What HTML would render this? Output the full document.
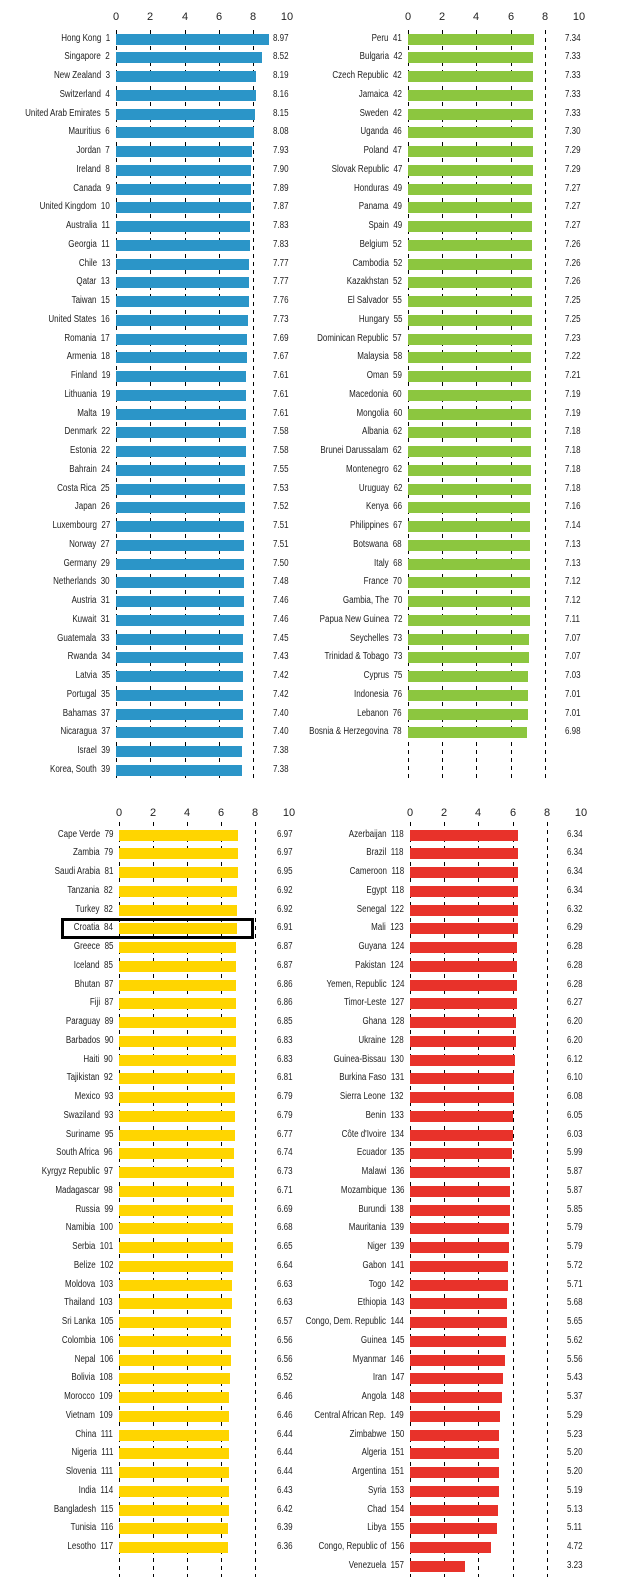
<!DOCTYPE html>
<html><head><meta charset="utf-8"><style>
body{margin:0;width:625px;height:1590px;background:#fff;position:relative;overflow:hidden;font-family:"Liberation Sans",sans-serif;color:#222}
.p{position:absolute;width:0}
.r{position:relative;height:18.76px}
.l{position:absolute;right:6px;top:0;line-height:18.76px;font-size:10px;white-space:nowrap;transform:scaleX(.8);transform-origin:right center}
.b{position:absolute;left:0;top:4px;height:11px}
.v{position:absolute;top:0;line-height:18.76px;font-size:10px;transform:scaleX(.8);transform-origin:left center}
.t1 .b{background:#2b95c8}.t2 .b{background:#8cc63f}.t3 .b{background:#ffd500}.t4 .b{background:#e8322a}
.t1 .v{left:157px}.t2 .v{left:157px}.t3 .v{left:158px}.t4 .v{left:157px}
.d{position:absolute;width:1px;background:repeating-linear-gradient(#000 0 4px,transparent 4px 8px)}
.ax{position:absolute;font-size:11px;width:30px;text-align:center;margin-left:-15px}
.box{position:absolute;left:61px;top:918px;width:187px;height:15px;border:3px solid #000}
</style></head><body>
<!-- axes -->
<div class="ax" style="left:116px;top:11px">0</div><div class="ax" style="left:150px;top:11px">2</div><div class="ax" style="left:185px;top:11px">4</div><div class="ax" style="left:219px;top:11px">6</div><div class="ax" style="left:253px;top:11px">8</div><div class="ax" style="left:287px;top:11px">10</div>
<div class="ax" style="left:408px;top:11px">0</div><div class="ax" style="left:442px;top:11px">2</div><div class="ax" style="left:476px;top:11px">4</div><div class="ax" style="left:511px;top:11px">6</div><div class="ax" style="left:545px;top:11px">8</div><div class="ax" style="left:579px;top:11px">10</div>
<div class="ax" style="left:119px;top:807px">0</div><div class="ax" style="left:153px;top:807px">2</div><div class="ax" style="left:187px;top:807px">4</div><div class="ax" style="left:221px;top:807px">6</div><div class="ax" style="left:255px;top:807px">8</div><div class="ax" style="left:289px;top:807px">10</div>
<div class="ax" style="left:410px;top:807px">0</div><div class="ax" style="left:444px;top:807px">2</div><div class="ax" style="left:478px;top:807px">4</div><div class="ax" style="left:513px;top:807px">6</div><div class="ax" style="left:547px;top:807px">8</div><div class="ax" style="left:581px;top:807px">10</div>
<!-- dashed -->
<div class="d" style="left:116px;top:30px;height:751px"></div><div class="d" style="left:150px;top:30px;height:751px"></div><div class="d" style="left:185px;top:30px;height:751px"></div><div class="d" style="left:219px;top:30px;height:751px"></div><div class="d" style="left:253px;top:30px;height:751px"></div>
<div class="d" style="left:408px;top:30px;height:751px"></div><div class="d" style="left:442px;top:30px;height:751px"></div><div class="d" style="left:476px;top:30px;height:751px"></div><div class="d" style="left:511px;top:30px;height:751px"></div><div class="d" style="left:545px;top:30px;height:751px"></div>
<div class="d" style="left:119px;top:822px;height:755px"></div><div class="d" style="left:153px;top:822px;height:755px"></div><div class="d" style="left:187px;top:822px;height:755px"></div><div class="d" style="left:221px;top:822px;height:755px"></div><div class="d" style="left:255px;top:822px;height:755px"></div>
<div class="d" style="left:410px;top:822px;height:755px"></div><div class="d" style="left:444px;top:822px;height:755px"></div><div class="d" style="left:478px;top:822px;height:755px"></div><div class="d" style="left:513px;top:822px;height:755px"></div><div class="d" style="left:547px;top:822px;height:755px"></div>

<div class="p t1" style="left:116px;top:29.6px">
<div class="r"><span class="l">Hong Kong&nbsp; 1</span><div class="b" style="width:calc(8.97*17.1px)"></div><span class="v">8.97</span></div>
<div class="r"><span class="l">Singapore&nbsp; 2</span><div class="b" style="width:calc(8.52*17.1px)"></div><span class="v">8.52</span></div>
<div class="r"><span class="l">New Zealand&nbsp; 3</span><div class="b" style="width:calc(8.19*17.1px)"></div><span class="v">8.19</span></div>
<div class="r"><span class="l">Switzerland&nbsp; 4</span><div class="b" style="width:calc(8.16*17.1px)"></div><span class="v">8.16</span></div>
<div class="r"><span class="l">United Arab Emirates&nbsp; 5</span><div class="b" style="width:calc(8.15*17.1px)"></div><span class="v">8.15</span></div>
<div class="r"><span class="l">Mauritius&nbsp; 6</span><div class="b" style="width:calc(8.08*17.1px)"></div><span class="v">8.08</span></div>
<div class="r"><span class="l">Jordan&nbsp; 7</span><div class="b" style="width:calc(7.93*17.1px)"></div><span class="v">7.93</span></div>
<div class="r"><span class="l">Ireland&nbsp; 8</span><div class="b" style="width:calc(7.90*17.1px)"></div><span class="v">7.90</span></div>
<div class="r"><span class="l">Canada&nbsp; 9</span><div class="b" style="width:calc(7.89*17.1px)"></div><span class="v">7.89</span></div>
<div class="r"><span class="l">United Kingdom&nbsp; 10</span><div class="b" style="width:calc(7.87*17.1px)"></div><span class="v">7.87</span></div>
<div class="r"><span class="l">Australia&nbsp; 11</span><div class="b" style="width:calc(7.83*17.1px)"></div><span class="v">7.83</span></div>
<div class="r"><span class="l">Georgia&nbsp; 11</span><div class="b" style="width:calc(7.83*17.1px)"></div><span class="v">7.83</span></div>
<div class="r"><span class="l">Chile&nbsp; 13</span><div class="b" style="width:calc(7.77*17.1px)"></div><span class="v">7.77</span></div>
<div class="r"><span class="l">Qatar&nbsp; 13</span><div class="b" style="width:calc(7.77*17.1px)"></div><span class="v">7.77</span></div>
<div class="r"><span class="l">Taiwan&nbsp; 15</span><div class="b" style="width:calc(7.76*17.1px)"></div><span class="v">7.76</span></div>
<div class="r"><span class="l">United States&nbsp; 16</span><div class="b" style="width:calc(7.73*17.1px)"></div><span class="v">7.73</span></div>
<div class="r"><span class="l">Romania&nbsp; 17</span><div class="b" style="width:calc(7.69*17.1px)"></div><span class="v">7.69</span></div>
<div class="r"><span class="l">Armenia&nbsp; 18</span><div class="b" style="width:calc(7.67*17.1px)"></div><span class="v">7.67</span></div>
<div class="r"><span class="l">Finland&nbsp; 19</span><div class="b" style="width:calc(7.61*17.1px)"></div><span class="v">7.61</span></div>
<div class="r"><span class="l">Lithuania&nbsp; 19</span><div class="b" style="width:calc(7.61*17.1px)"></div><span class="v">7.61</span></div>
<div class="r"><span class="l">Malta&nbsp; 19</span><div class="b" style="width:calc(7.61*17.1px)"></div><span class="v">7.61</span></div>
<div class="r"><span class="l">Denmark&nbsp; 22</span><div class="b" style="width:calc(7.58*17.1px)"></div><span class="v">7.58</span></div>
<div class="r"><span class="l">Estonia&nbsp; 22</span><div class="b" style="width:calc(7.58*17.1px)"></div><span class="v">7.58</span></div>
<div class="r"><span class="l">Bahrain&nbsp; 24</span><div class="b" style="width:calc(7.55*17.1px)"></div><span class="v">7.55</span></div>
<div class="r"><span class="l">Costa Rica&nbsp; 25</span><div class="b" style="width:calc(7.53*17.1px)"></div><span class="v">7.53</span></div>
<div class="r"><span class="l">Japan&nbsp; 26</span><div class="b" style="width:calc(7.52*17.1px)"></div><span class="v">7.52</span></div>
<div class="r"><span class="l">Luxembourg&nbsp; 27</span><div class="b" style="width:calc(7.51*17.1px)"></div><span class="v">7.51</span></div>
<div class="r"><span class="l">Norway&nbsp; 27</span><div class="b" style="width:calc(7.51*17.1px)"></div><span class="v">7.51</span></div>
<div class="r"><span class="l">Germany&nbsp; 29</span><div class="b" style="width:calc(7.50*17.1px)"></div><span class="v">7.50</span></div>
<div class="r"><span class="l">Netherlands&nbsp; 30</span><div class="b" style="width:calc(7.48*17.1px)"></div><span class="v">7.48</span></div>
<div class="r"><span class="l">Austria&nbsp; 31</span><div class="b" style="width:calc(7.46*17.1px)"></div><span class="v">7.46</span></div>
<div class="r"><span class="l">Kuwait&nbsp; 31</span><div class="b" style="width:calc(7.46*17.1px)"></div><span class="v">7.46</span></div>
<div class="r"><span class="l">Guatemala&nbsp; 33</span><div class="b" style="width:calc(7.45*17.1px)"></div><span class="v">7.45</span></div>
<div class="r"><span class="l">Rwanda&nbsp; 34</span><div class="b" style="width:calc(7.43*17.1px)"></div><span class="v">7.43</span></div>
<div class="r"><span class="l">Latvia&nbsp; 35</span><div class="b" style="width:calc(7.42*17.1px)"></div><span class="v">7.42</span></div>
<div class="r"><span class="l">Portugal&nbsp; 35</span><div class="b" style="width:calc(7.42*17.1px)"></div><span class="v">7.42</span></div>
<div class="r"><span class="l">Bahamas&nbsp; 37</span><div class="b" style="width:calc(7.40*17.1px)"></div><span class="v">7.40</span></div>
<div class="r"><span class="l">Nicaragua&nbsp; 37</span><div class="b" style="width:calc(7.40*17.1px)"></div><span class="v">7.40</span></div>
<div class="r"><span class="l">Israel&nbsp; 39</span><div class="b" style="width:calc(7.38*17.1px)"></div><span class="v">7.38</span></div>
<div class="r"><span class="l">Korea, South&nbsp; 39</span><div class="b" style="width:calc(7.38*17.1px)"></div><span class="v">7.38</span></div>
</div>

<div class="p t2" style="left:408px;top:29.6px">
<div class="r"><span class="l">Peru&nbsp; 41</span><div class="b" style="width:calc(7.34*17.1px)"></div><span class="v">7.34</span></div>
<div class="r"><span class="l">Bulgaria&nbsp; 42</span><div class="b" style="width:calc(7.33*17.1px)"></div><span class="v">7.33</span></div>
<div class="r"><span class="l">Czech Republic&nbsp; 42</span><div class="b" style="width:calc(7.33*17.1px)"></div><span class="v">7.33</span></div>
<div class="r"><span class="l">Jamaica&nbsp; 42</span><div class="b" style="width:calc(7.33*17.1px)"></div><span class="v">7.33</span></div>
<div class="r"><span class="l">Sweden&nbsp; 42</span><div class="b" style="width:calc(7.33*17.1px)"></div><span class="v">7.33</span></div>
<div class="r"><span class="l">Uganda&nbsp; 46</span><div class="b" style="width:calc(7.30*17.1px)"></div><span class="v">7.30</span></div>
<div class="r"><span class="l">Poland&nbsp; 47</span><div class="b" style="width:calc(7.29*17.1px)"></div><span class="v">7.29</span></div>
<div class="r"><span class="l">Slovak Republic&nbsp; 47</span><div class="b" style="width:calc(7.29*17.1px)"></div><span class="v">7.29</span></div>
<div class="r"><span class="l">Honduras&nbsp; 49</span><div class="b" style="width:calc(7.27*17.1px)"></div><span class="v">7.27</span></div>
<div class="r"><span class="l">Panama&nbsp; 49</span><div class="b" style="width:calc(7.27*17.1px)"></div><span class="v">7.27</span></div>
<div class="r"><span class="l">Spain&nbsp; 49</span><div class="b" style="width:calc(7.27*17.1px)"></div><span class="v">7.27</span></div>
<div class="r"><span class="l">Belgium&nbsp; 52</span><div class="b" style="width:calc(7.26*17.1px)"></div><span class="v">7.26</span></div>
<div class="r"><span class="l">Cambodia&nbsp; 52</span><div class="b" style="width:calc(7.26*17.1px)"></div><span class="v">7.26</span></div>
<div class="r"><span class="l">Kazakhstan&nbsp; 52</span><div class="b" style="width:calc(7.26*17.1px)"></div><span class="v">7.26</span></div>
<div class="r"><span class="l">El Salvador&nbsp; 55</span><div class="b" style="width:calc(7.25*17.1px)"></div><span class="v">7.25</span></div>
<div class="r"><span class="l">Hungary&nbsp; 55</span><div class="b" style="width:calc(7.25*17.1px)"></div><span class="v">7.25</span></div>
<div class="r"><span class="l">Dominican Republic&nbsp; 57</span><div class="b" style="width:calc(7.23*17.1px)"></div><span class="v">7.23</span></div>
<div class="r"><span class="l">Malaysia&nbsp; 58</span><div class="b" style="width:calc(7.22*17.1px)"></div><span class="v">7.22</span></div>
<div class="r"><span class="l">Oman&nbsp; 59</span><div class="b" style="width:calc(7.21*17.1px)"></div><span class="v">7.21</span></div>
<div class="r"><span class="l">Macedonia&nbsp; 60</span><div class="b" style="width:calc(7.19*17.1px)"></div><span class="v">7.19</span></div>
<div class="r"><span class="l">Mongolia&nbsp; 60</span><div class="b" style="width:calc(7.19*17.1px)"></div><span class="v">7.19</span></div>
<div class="r"><span class="l">Albania&nbsp; 62</span><div class="b" style="width:calc(7.18*17.1px)"></div><span class="v">7.18</span></div>
<div class="r"><span class="l">Brunei Darussalam&nbsp; 62</span><div class="b" style="width:calc(7.18*17.1px)"></div><span class="v">7.18</span></div>
<div class="r"><span class="l">Montenegro&nbsp; 62</span><div class="b" style="width:calc(7.18*17.1px)"></div><span class="v">7.18</span></div>
<div class="r"><span class="l">Uruguay&nbsp; 62</span><div class="b" style="width:calc(7.18*17.1px)"></div><span class="v">7.18</span></div>
<div class="r"><span class="l">Kenya&nbsp; 66</span><div class="b" style="width:calc(7.16*17.1px)"></div><span class="v">7.16</span></div>
<div class="r"><span class="l">Philippines&nbsp; 67</span><div class="b" style="width:calc(7.14*17.1px)"></div><span class="v">7.14</span></div>
<div class="r"><span class="l">Botswana&nbsp; 68</span><div class="b" style="width:calc(7.13*17.1px)"></div><span class="v">7.13</span></div>
<div class="r"><span class="l">Italy&nbsp; 68</span><div class="b" style="width:calc(7.13*17.1px)"></div><span class="v">7.13</span></div>
<div class="r"><span class="l">France&nbsp; 70</span><div class="b" style="width:calc(7.12*17.1px)"></div><span class="v">7.12</span></div>
<div class="r"><span class="l">Gambia, The&nbsp; 70</span><div class="b" style="width:calc(7.12*17.1px)"></div><span class="v">7.12</span></div>
<div class="r"><span class="l">Papua New Guinea&nbsp; 72</span><div class="b" style="width:calc(7.11*17.1px)"></div><span class="v">7.11</span></div>
<div class="r"><span class="l">Seychelles&nbsp; 73</span><div class="b" style="width:calc(7.07*17.1px)"></div><span class="v">7.07</span></div>
<div class="r"><span class="l">Trinidad &amp; Tobago&nbsp; 73</span><div class="b" style="width:calc(7.07*17.1px)"></div><span class="v">7.07</span></div>
<div class="r"><span class="l">Cyprus&nbsp; 75</span><div class="b" style="width:calc(7.03*17.1px)"></div><span class="v">7.03</span></div>
<div class="r"><span class="l">Indonesia&nbsp; 76</span><div class="b" style="width:calc(7.01*17.1px)"></div><span class="v">7.01</span></div>
<div class="r"><span class="l">Lebanon&nbsp; 76</span><div class="b" style="width:calc(7.01*17.1px)"></div><span class="v">7.01</span></div>
<div class="r"><span class="l">Bosnia &amp; Herzegovina&nbsp; 78</span><div class="b" style="width:calc(6.98*17.1px)"></div><span class="v">6.98</span></div>
</div>

<div class="p t3" style="left:119px;top:825.6px">
<div class="r"><span class="l">Cape Verde&nbsp; 79</span><div class="b" style="width:calc(6.97*17.1px)"></div><span class="v">6.97</span></div>
<div class="r"><span class="l">Zambia&nbsp; 79</span><div class="b" style="width:calc(6.97*17.1px)"></div><span class="v">6.97</span></div>
<div class="r"><span class="l">Saudi Arabia&nbsp; 81</span><div class="b" style="width:calc(6.95*17.1px)"></div><span class="v">6.95</span></div>
<div class="r"><span class="l">Tanzania&nbsp; 82</span><div class="b" style="width:calc(6.92*17.1px)"></div><span class="v">6.92</span></div>
<div class="r"><span class="l">Turkey&nbsp; 82</span><div class="b" style="width:calc(6.92*17.1px)"></div><span class="v">6.92</span></div>
<div class="r"><span class="l">Croatia&nbsp; 84</span><div class="b" style="width:calc(6.91*17.1px)"></div><span class="v">6.91</span></div>
<div class="r"><span class="l">Greece&nbsp; 85</span><div class="b" style="width:calc(6.87*17.1px)"></div><span class="v">6.87</span></div>
<div class="r"><span class="l">Iceland&nbsp; 85</span><div class="b" style="width:calc(6.87*17.1px)"></div><span class="v">6.87</span></div>
<div class="r"><span class="l">Bhutan&nbsp; 87</span><div class="b" style="width:calc(6.86*17.1px)"></div><span class="v">6.86</span></div>
<div class="r"><span class="l">Fiji&nbsp; 87</span><div class="b" style="width:calc(6.86*17.1px)"></div><span class="v">6.86</span></div>
<div class="r"><span class="l">Paraguay&nbsp; 89</span><div class="b" style="width:calc(6.85*17.1px)"></div><span class="v">6.85</span></div>
<div class="r"><span class="l">Barbados&nbsp; 90</span><div class="b" style="width:calc(6.83*17.1px)"></div><span class="v">6.83</span></div>
<div class="r"><span class="l">Haiti&nbsp; 90</span><div class="b" style="width:calc(6.83*17.1px)"></div><span class="v">6.83</span></div>
<div class="r"><span class="l">Tajikistan&nbsp; 92</span><div class="b" style="width:calc(6.81*17.1px)"></div><span class="v">6.81</span></div>
<div class="r"><span class="l">Mexico&nbsp; 93</span><div class="b" style="width:calc(6.79*17.1px)"></div><span class="v">6.79</span></div>
<div class="r"><span class="l">Swaziland&nbsp; 93</span><div class="b" style="width:calc(6.79*17.1px)"></div><span class="v">6.79</span></div>
<div class="r"><span class="l">Suriname&nbsp; 95</span><div class="b" style="width:calc(6.77*17.1px)"></div><span class="v">6.77</span></div>
<div class="r"><span class="l">South Africa&nbsp; 96</span><div class="b" style="width:calc(6.74*17.1px)"></div><span class="v">6.74</span></div>
<div class="r"><span class="l">Kyrgyz Republic&nbsp; 97</span><div class="b" style="width:calc(6.73*17.1px)"></div><span class="v">6.73</span></div>
<div class="r"><span class="l">Madagascar&nbsp; 98</span><div class="b" style="width:calc(6.71*17.1px)"></div><span class="v">6.71</span></div>
<div class="r"><span class="l">Russia&nbsp; 99</span><div class="b" style="width:calc(6.69*17.1px)"></div><span class="v">6.69</span></div>
<div class="r"><span class="l">Namibia&nbsp; 100</span><div class="b" style="width:calc(6.68*17.1px)"></div><span class="v">6.68</span></div>
<div class="r"><span class="l">Serbia&nbsp; 101</span><div class="b" style="width:calc(6.65*17.1px)"></div><span class="v">6.65</span></div>
<div class="r"><span class="l">Belize&nbsp; 102</span><div class="b" style="width:calc(6.64*17.1px)"></div><span class="v">6.64</span></div>
<div class="r"><span class="l">Moldova&nbsp; 103</span><div class="b" style="width:calc(6.63*17.1px)"></div><span class="v">6.63</span></div>
<div class="r"><span class="l">Thailand&nbsp; 103</span><div class="b" style="width:calc(6.63*17.1px)"></div><span class="v">6.63</span></div>
<div class="r"><span class="l">Sri Lanka&nbsp; 105</span><div class="b" style="width:calc(6.57*17.1px)"></div><span class="v">6.57</span></div>
<div class="r"><span class="l">Colombia&nbsp; 106</span><div class="b" style="width:calc(6.56*17.1px)"></div><span class="v">6.56</span></div>
<div class="r"><span class="l">Nepal&nbsp; 106</span><div class="b" style="width:calc(6.56*17.1px)"></div><span class="v">6.56</span></div>
<div class="r"><span class="l">Bolivia&nbsp; 108</span><div class="b" style="width:calc(6.52*17.1px)"></div><span class="v">6.52</span></div>
<div class="r"><span class="l">Morocco&nbsp; 109</span><div class="b" style="width:calc(6.46*17.1px)"></div><span class="v">6.46</span></div>
<div class="r"><span class="l">Vietnam&nbsp; 109</span><div class="b" style="width:calc(6.46*17.1px)"></div><span class="v">6.46</span></div>
<div class="r"><span class="l">China&nbsp; 111</span><div class="b" style="width:calc(6.44*17.1px)"></div><span class="v">6.44</span></div>
<div class="r"><span class="l">Nigeria&nbsp; 111</span><div class="b" style="width:calc(6.44*17.1px)"></div><span class="v">6.44</span></div>
<div class="r"><span class="l">Slovenia&nbsp; 111</span><div class="b" style="width:calc(6.44*17.1px)"></div><span class="v">6.44</span></div>
<div class="r"><span class="l">India&nbsp; 114</span><div class="b" style="width:calc(6.43*17.1px)"></div><span class="v">6.43</span></div>
<div class="r"><span class="l">Bangladesh&nbsp; 115</span><div class="b" style="width:calc(6.42*17.1px)"></div><span class="v">6.42</span></div>
<div class="r"><span class="l">Tunisia&nbsp; 116</span><div class="b" style="width:calc(6.39*17.1px)"></div><span class="v">6.39</span></div>
<div class="r"><span class="l">Lesotho&nbsp; 117</span><div class="b" style="width:calc(6.36*17.1px)"></div><span class="v">6.36</span></div>
</div>

<div class="p t4" style="left:410px;top:825.6px">
<div class="r"><span class="l">Azerbaijan&nbsp; 118</span><div class="b" style="width:calc(6.34*17.1px)"></div><span class="v">6.34</span></div>
<div class="r"><span class="l">Brazil&nbsp; 118</span><div class="b" style="width:calc(6.34*17.1px)"></div><span class="v">6.34</span></div>
<div class="r"><span class="l">Cameroon&nbsp; 118</span><div class="b" style="width:calc(6.34*17.1px)"></div><span class="v">6.34</span></div>
<div class="r"><span class="l">Egypt&nbsp; 118</span><div class="b" style="width:calc(6.34*17.1px)"></div><span class="v">6.34</span></div>
<div class="r"><span class="l">Senegal&nbsp; 122</span><div class="b" style="width:calc(6.32*17.1px)"></div><span class="v">6.32</span></div>
<div class="r"><span class="l">Mali&nbsp; 123</span><div class="b" style="width:calc(6.29*17.1px)"></div><span class="v">6.29</span></div>
<div class="r"><span class="l">Guyana&nbsp; 124</span><div class="b" style="width:calc(6.28*17.1px)"></div><span class="v">6.28</span></div>
<div class="r"><span class="l">Pakistan&nbsp; 124</span><div class="b" style="width:calc(6.28*17.1px)"></div><span class="v">6.28</span></div>
<div class="r"><span class="l">Yemen, Republic&nbsp; 124</span><div class="b" style="width:calc(6.28*17.1px)"></div><span class="v">6.28</span></div>
<div class="r"><span class="l">Timor-Leste&nbsp; 127</span><div class="b" style="width:calc(6.27*17.1px)"></div><span class="v">6.27</span></div>
<div class="r"><span class="l">Ghana&nbsp; 128</span><div class="b" style="width:calc(6.20*17.1px)"></div><span class="v">6.20</span></div>
<div class="r"><span class="l">Ukraine&nbsp; 128</span><div class="b" style="width:calc(6.20*17.1px)"></div><span class="v">6.20</span></div>
<div class="r"><span class="l">Guinea-Bissau&nbsp; 130</span><div class="b" style="width:calc(6.12*17.1px)"></div><span class="v">6.12</span></div>
<div class="r"><span class="l">Burkina Faso&nbsp; 131</span><div class="b" style="width:calc(6.10*17.1px)"></div><span class="v">6.10</span></div>
<div class="r"><span class="l">Sierra Leone&nbsp; 132</span><div class="b" style="width:calc(6.08*17.1px)"></div><span class="v">6.08</span></div>
<div class="r"><span class="l">Benin&nbsp; 133</span><div class="b" style="width:calc(6.05*17.1px)"></div><span class="v">6.05</span></div>
<div class="r"><span class="l">Côte d'Ivoire&nbsp; 134</span><div class="b" style="width:calc(6.03*17.1px)"></div><span class="v">6.03</span></div>
<div class="r"><span class="l">Ecuador&nbsp; 135</span><div class="b" style="width:calc(5.99*17.1px)"></div><span class="v">5.99</span></div>
<div class="r"><span class="l">Malawi&nbsp; 136</span><div class="b" style="width:calc(5.87*17.1px)"></div><span class="v">5.87</span></div>
<div class="r"><span class="l">Mozambique&nbsp; 136</span><div class="b" style="width:calc(5.87*17.1px)"></div><span class="v">5.87</span></div>
<div class="r"><span class="l">Burundi&nbsp; 138</span><div class="b" style="width:calc(5.85*17.1px)"></div><span class="v">5.85</span></div>
<div class="r"><span class="l">Mauritania&nbsp; 139</span><div class="b" style="width:calc(5.79*17.1px)"></div><span class="v">5.79</span></div>
<div class="r"><span class="l">Niger&nbsp; 139</span><div class="b" style="width:calc(5.79*17.1px)"></div><span class="v">5.79</span></div>
<div class="r"><span class="l">Gabon&nbsp; 141</span><div class="b" style="width:calc(5.72*17.1px)"></div><span class="v">5.72</span></div>
<div class="r"><span class="l">Togo&nbsp; 142</span><div class="b" style="width:calc(5.71*17.1px)"></div><span class="v">5.71</span></div>
<div class="r"><span class="l">Ethiopia&nbsp; 143</span><div class="b" style="width:calc(5.68*17.1px)"></div><span class="v">5.68</span></div>
<div class="r"><span class="l">Congo, Dem. Republic&nbsp; 144</span><div class="b" style="width:calc(5.65*17.1px)"></div><span class="v">5.65</span></div>
<div class="r"><span class="l">Guinea&nbsp; 145</span><div class="b" style="width:calc(5.62*17.1px)"></div><span class="v">5.62</span></div>
<div class="r"><span class="l">Myanmar&nbsp; 146</span><div class="b" style="width:calc(5.56*17.1px)"></div><span class="v">5.56</span></div>
<div class="r"><span class="l">Iran&nbsp; 147</span><div class="b" style="width:calc(5.43*17.1px)"></div><span class="v">5.43</span></div>
<div class="r"><span class="l">Angola&nbsp; 148</span><div class="b" style="width:calc(5.37*17.1px)"></div><span class="v">5.37</span></div>
<div class="r"><span class="l">Central African Rep.&nbsp; 149</span><div class="b" style="width:calc(5.29*17.1px)"></div><span class="v">5.29</span></div>
<div class="r"><span class="l">Zimbabwe&nbsp; 150</span><div class="b" style="width:calc(5.23*17.1px)"></div><span class="v">5.23</span></div>
<div class="r"><span class="l">Algeria&nbsp; 151</span><div class="b" style="width:calc(5.20*17.1px)"></div><span class="v">5.20</span></div>
<div class="r"><span class="l">Argentina&nbsp; 151</span><div class="b" style="width:calc(5.20*17.1px)"></div><span class="v">5.20</span></div>
<div class="r"><span class="l">Syria&nbsp; 153</span><div class="b" style="width:calc(5.19*17.1px)"></div><span class="v">5.19</span></div>
<div class="r"><span class="l">Chad&nbsp; 154</span><div class="b" style="width:calc(5.13*17.1px)"></div><span class="v">5.13</span></div>
<div class="r"><span class="l">Libya&nbsp; 155</span><div class="b" style="width:calc(5.11*17.1px)"></div><span class="v">5.11</span></div>
<div class="r"><span class="l">Congo, Republic of&nbsp; 156</span><div class="b" style="width:calc(4.72*17.1px)"></div><span class="v">4.72</span></div>
<div class="r"><span class="l">Venezuela&nbsp; 157</span><div class="b" style="width:calc(3.23*17.1px)"></div><span class="v">3.23</span></div>
</div>

<div class="box"></div>
</body></html>
